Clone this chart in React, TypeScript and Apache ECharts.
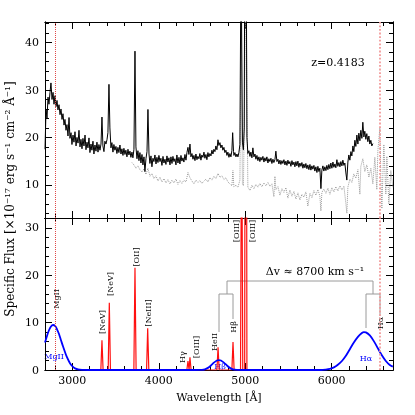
import React, { useEffect, useRef } from 'react';
import * as echarts from 'echarts';

const X_MIN = 2684;
const X_MAX = 6710;
const xMajorTicks = [3000, 4000, 5000, 6000];
const xMinorTicks = [2800, 3000, 3200, 3400, 3600, 3800, 4000, 4200, 4400, 4600, 4800, 5000, 5200, 5400, 5600, 5800, 6000, 6200, 6400, 6600];
const xTickLabels = [3000, 4000, 5000, 6000];
const topYMajor = [10, 20, 30, 40];
const topYMinor = [4, 6, 8, 10, 12, 14, 16, 18, 20, 22, 24, 26, 28, 30, 32, 34, 36, 38, 40, 42, 44];
const botYMajor = [0, 10, 20, 30];
const botYMinor = [0, 2, 4, 6, 8, 10, 12, 14, 16, 18, 20, 22, 24, 26, 28, 30, 32];

// observed spectrum (black)
const observedSpectrum: [number, number][] = [
[2684,17.5],[2696,26],[2707,24],[2719,28.5],[2730,27],[2742,29.5],[2753,31.5],[2765,28],[2777,29.5],[2788,27],[2800,28.8],[2811,26.5],[2823,27.8],[2834,25.8],[2846,26.9],[2858,24.8],[2869,26],[2881,23.8],[2892,25],[2904,22.6],[2915,23.8],[2927,21.5],[2938,22.7],[2950,20.3],[2962,24.2],[2973,19.8],[2985,21],[2996,18.5],[3008,20.5],[3019,19],[3031,21.2],[3043,18.2],[3054,20],[3066,18.8],[3077,21.5],[3089,18],[3100,19.6],[3112,17.6],[3123,19.8],[3135,18.2],[3147,20.5],[3158,17.4],[3170,19],[3181,17.8],[3193,19.9],[3204,16.8],[3216,18.6],[3227,17.3],[3239,19.2],[3250,16.5],[3262,18.4],[3274,17.1],[3285,19],[3297,16.9],[3308,18.5],[3320,17.3],[3332,18.6],[3343,24.3],[3354,18.2],[3366,17],[3377,19.2],[3389,18.6],[3401,19.5],[3412,21],[3424,31.2],[3435,22],[3447,17.8],[3458,18.9],[3470,16.9],[3481,18.5],[3493,17.3],[3505,18.1],[3516,16.6],[3528,17.9],[3539,16.8],[3551,18.4],[3563,16.5],[3574,17.6],[3586,16.2],[3597,17.7],[3609,16.4],[3620,17.3],[3632,15.9],[3644,17.5],[3655,16.3],[3667,17.1],[3678,15.8],[3690,16.9],[3701,15.7],[3713,17.5],[3725,38.2],[3736,18],[3748,15.5],[3759,17.2],[3771,15.1],[3782,16.8],[3794,14.6],[3806,16.4],[3817,14.2],[3829,15.9],[3840,12.8],[3852,15.5],[3864,17],[3875,25.9],[3887,16.5],[3898,14.5],[3910,16.1],[3921,13.8],[3933,15.6],[3944,14.9],[3956,16.3],[3968,14.4],[3979,15.8],[3991,14.7],[4002,16.2],[4014,14.9],[4025,15.6],[4037,14.1],[4049,16],[4060,14.6],[4072,15.4],[4083,14.3],[4095,16.1],[4106,14.8],[4118,15.7],[4130,14.2],[4141,15.9],[4153,14.5],[4164,16],[4176,14.9],[4187,15.5],[4199,14.2],[4210,16.3],[4222,14.6],[4234,15.8],[4245,14.4],[4257,16.2],[4268,15],[4280,15.7],[4291,14.8],[4303,16.4],[4315,15.2],[4326,16.8],[4338,17.9],[4349,16.4],[4361,18.6],[4372,15.9],[4384,16.6],[4396,15.4],[4407,16.2],[4419,15.1],[4430,16.5],[4442,15.3],[4453,16],[4465,15.5],[4476,16.6],[4488,15.2],[4499,16.3],[4511,15.8],[4523,16.9],[4534,15.6],[4546,16.4],[4557,15.3],[4569,16.8],[4580,15.9],[4592,16.6],[4604,16.1],[4615,17.3],[4627,16.5],[4638,17.5],[4650,17],[4661,18.2],[4673,17.4],[4685,19.5],[4696,18.3],[4708,18.9],[4719,17.8],[4731,18.4],[4742,17.3],[4754,17.9],[4765,16.8],[4777,17.3],[4789,16.2],[4800,16.9],[4812,15.8],[4823,16.6],[4835,15.9],[4846,17.2],[4855,21],[4865,17],[4870,16.2],[4881,16.8],[4893,15.9],[4904,16.5],[4916,15.9],[4927,16.8],[4939,18.5],[4952,60],[4960,60],[4968,19],[4979,17.4],[4989,22],[4998,80],[5008,80],[5020,20],[5031,16.6],[5043,17.2],[5055,16],[5066,16.9],[5078,15.7],[5089,17.8],[5101,15.9],[5113,16.5],[5124,15.4],[5136,16.2],[5147,15.1],[5159,15.9],[5170,14.9],[5182,15.8],[5193,15.2],[5205,16],[5217,14.8],[5228,15.7],[5240,15],[5251,15.9],[5263,14.6],[5274,15.5],[5286,14.9],[5298,15.6],[5309,14.5],[5321,15.4],[5332,14.7],[5344,15.3],[5355,17.1],[5367,14.9],[5379,15.4],[5390,14.4],[5402,15.2],[5413,14.3],[5425,15.1],[5436,14.5],[5448,15.3],[5460,14.2],[5471,15],[5483,14.1],[5494,15.2],[5506,14.4],[5517,14.9],[5529,13.9],[5541,15.1],[5552,14.2],[5564,14.8],[5575,13.8],[5587,14.9],[5598,14],[5610,15],[5621,13.7],[5633,14.6],[5645,13.9],[5656,14.7],[5668,13.5],[5679,14.4],[5691,13.6],[5702,14.5],[5714,13.4],[5725,14.2],[5737,13.2],[5749,14.3],[5760,13.1],[5772,14],[5783,13.3],[5795,14.1],[5806,12.9],[5818,13.8],[5830,12.6],[5841,13.9],[5853,12.8],[5864,13.5],[5876,9.2],[5887,13.1],[5899,14],[5910,12.9],[5922,13.8],[5934,13],[5945,14.1],[5957,13.2],[5968,14.3],[5980,13.4],[5991,14.6],[6003,13.5],[6015,14.8],[6026,13.7],[6038,14.4],[6049,13.6],[6061,15.3],[6072,13.9],[6084,14.7],[6096,13.8],[6107,14.9],[6119,14],[6130,15.2],[6142,14.1],[6153,14.6],[6165,12.5],[6176,11],[6188,14.8],[6199,16.3],[6211,15.2],[6223,17],[6234,16.1],[6246,18.2],[6257,17],[6269,19.4],[6280,18.1],[6292,20.5],[6304,18.6],[6315,20.9],[6327,19.3],[6338,21.5],[6350,19.8],[6361,23.2],[6373,20.1],[6384,21.3],[6396,19.6],[6407,20.8],[6419,19.1],[6431,20.3],[6442,18.6],[6454,19.4],[6465,18.2],[6477,18.7]
];

// comparison spectrum (grey dotted)
const comparisonSpectrum: [number, number][] = [
[3690,14.7],[3713,14.2],[3736,13.5],[3759,14],[3782,13.2],[3806,12.7],[3829,13.4],[3852,12.2],[3875,13.5],[3898,11.8],[3921,12.4],[3944,11.3],[3968,11.9],[3991,10.8],[4014,11.6],[4037,10.6],[4060,11.3],[4083,10.4],[4106,11.1],[4130,10.2],[4153,11],[4176,10.4],[4199,11.2],[4222,10.1],[4245,10.9],[4268,10.3],[4291,11],[4315,10.6],[4338,12.6],[4361,11.5],[4384,10.8],[4407,10.2],[4430,11],[4453,10.5],[4476,10.9],[4499,10.3],[4523,10.8],[4546,11.2],[4569,10.6],[4592,11.5],[4615,11],[4638,11.8],[4661,11.3],[4685,12.4],[4708,11.6],[4731,11.9],[4754,11.1],[4777,11.5],[4800,10.6],[4823,10.2],[4846,9.8],[4858,13],[4869,9.6],[4893,9.9],[4916,9.5],[4939,11],[4955,45],[4968,10.2],[4980,9.8],[5003,45],[5012,45],[5031,9.5],[5055,8.8],[5078,9.9],[5101,9.2],[5124,10.1],[5147,9.5],[5170,10.3],[5193,9.6],[5217,10.4],[5240,9.8],[5263,10.5],[5286,9.7],[5309,10.2],[5332,7.5],[5344,11.8],[5355,9],[5379,9.6],[5402,7.8],[5425,9.2],[5448,8.4],[5471,9.4],[5494,7.2],[5517,8.9],[5541,7.6],[5564,8.6],[5587,7],[5610,8.3],[5633,6.8],[5656,8],[5679,7.4],[5702,8.5],[5725,5.5],[5749,8.2],[5772,7.3],[5795,8.8],[5818,7.8],[5841,9],[5864,7.6],[5876,4.5],[5887,8.4],[5910,9.1],[5934,8.2],[5957,9.3],[5980,8],[6003,9.4],[6026,8.5],[6049,9.6],[6072,8.7],[6096,9.8],[6119,8.9],[6142,9.7],[6165,6],[6176,4],[6188,9.5],[6211,11.2],[6234,10.5],[6257,12.3],[6280,11.4],[6304,13.2],[6327,8],[6338,13.9],[6361,15.5],[6384,12.8],[6407,14.2],[6431,11.6],[6454,13.5],[6477,10.2],[6500,15.8],[6523,9],[6535,17.2],[6558,22],[6569,12],[6581,5],[6604,18.5],[6627,8],[6639,16],[6662,6],[6685,13],[6708,9.5]
];

// broad components (blue)
const broadModel: [number, number][] = [
[2684,5.8],[2707,7.2],[2730,8.4],[2753,9.2],[2777,9.5],[2800,9.3],[2823,8.6],[2846,7.6],[2869,6.3],[2892,5],[2915,3.8],[2938,2.7],[2962,1.8],[2985,1.1],[3008,0.65],[3031,0.35],[3066,0.12],[3112,0.03],[3181,0],[3600,0],[4000,0],[4400,0],[4500,0.03],[4534,0.15],[4569,0.45],[4604,0.95],[4638,1.55],[4673,2],[4696,2.1],[4719,2],[4754,1.55],[4789,0.95],[4823,0.45],[4858,0.15],[4904,0.03],[4960,0],[5400,0],[5880,0],[5934,0.1],[5980,0.25],[6026,0.55],[6072,1.1],[6119,1.9],[6165,3],[6211,4.4],[6257,5.8],[6304,7],[6350,7.8],[6373,8],[6396,7.95],[6442,7.3],[6488,6.1],[6535,4.6],[6581,3.1],[6627,1.9],[6673,1.05],[6708,0.7]
];

// narrow emission lines (red): centres and peak heights
const narrowCentres = [3343, 3428, 3725, 3872, 4338, 4361, 4686, 4859, 4959, 5007];
const narrowPeaks = [6.3, 14.2, 21.6, 8.8, 1.9, 2.7, 4.8, 5.9, 60, 180];

const markerWavelengths = [2808, 6553];

const FONT = 'DejaVu Serif';

function xAxis(gridIndex: number, position: string, ticks: number[], len: number, labels: boolean) {
  return {
    type: 'value', gridIndex, position, min: X_MIN, max: X_MAX,
    axisLine: { show: true, onZero: false, lineStyle: { color: '#000', width: 1 } },
    axisTick: { show: true, inside: true, length: len, customValues: ticks, lineStyle: { color: '#000', width: 1 } },
    axisLabel: labels ? { show: true, customValues: xTickLabels, formatter: (v: number) => String(v), margin: 5, color: '#000', fontFamily: FONT, fontSize: 11 } : { show: false },
    splitLine: { show: false },
    minorTick: { show: false },
  };
}
function yAxis(gridIndex: number, position: string, min: number, max: number, ticks: number[], len: number, labels: number[] | null) {
  return {
    type: 'value', gridIndex, position, min, max,
    axisLine: { show: true, onZero: false, lineStyle: { color: '#000', width: 1 } },
    axisTick: { show: true, inside: true, length: len, customValues: ticks, lineStyle: { color: '#000', width: 1 } },
    axisLabel: labels ? { show: true, customValues: labels, formatter: (v: number) => String(v), margin: 6, color: '#000', fontFamily: FONT, fontSize: 11 } : { show: false },
    splitLine: { show: false },
  };
}

function rotLabel(x: number, y: number, text: string) {
  return {
    type: 'text', x, y, rotation: Math.PI / 2,
    style: { text, fill: '#000', fontFamily: FONT, fontSize: 8, align: 'center', verticalAlign: 'middle', textAlign: 'center', textVerticalAlign: 'middle' },
  };
}
function flatLabel(x: number, y: number, text: string, color: string, size: number) {
  return {
    type: 'text', x, y,
    style: { text, fill: color, fontFamily: FONT, fontSize: size, align: 'center', verticalAlign: 'middle', textAlign: 'center', textVerticalAlign: 'middle' },
  };
}
function bracket(points: number[][]) {
  return { type: 'polyline', shape: { points }, style: { stroke: '#9a9a9a', lineWidth: 1, fill: null }, silent: true };
}

export default function App() {
  const ref = useRef<HTMLDivElement>(null);
  useEffect(() => {
    if (!ref.current) return;
    const chart = echarts.init(ref.current, null, { renderer: 'svg' });
    const narrowData: [number, number][] = [];
    narrowCentres.forEach((c, i) => {
      narrowData.push([c - 13, 0], [c, narrowPeaks[i]], [c + 13, 0]);
    });
    const markLine = {
      silent: true, symbol: ['none', 'none'], label: { show: false }, animation: false,
      data: [
        { xAxis: markerWavelengths[0], lineStyle: { color: '#e04848', type: 'dotted', width: 1 } },
        { xAxis: markerWavelengths[1], lineStyle: { color: '#f29a9a', type: 'dotted', width: 1.8 } },
      ],
    };
    chart.setOption({
      animation: false,
      textStyle: { fontFamily: FONT },
      grid: [
        { left: 45, right: 22, top: 22, height: 196, containLabel: false, outerBoundsMode: 'none' },
        { left: 45, right: 22, top: 218, height: 152, containLabel: false, outerBoundsMode: 'none' },
      ],
      xAxis: [
        xAxis(0, 'bottom', xMajorTicks, 7, false),
        xAxis(0, 'bottom', xMinorTicks, 4, false),
        xAxis(0, 'top', xMajorTicks, 7, false),
        xAxis(0, 'top', xMinorTicks, 4, false),
        xAxis(1, 'bottom', xMajorTicks, 7, true),
        xAxis(1, 'bottom', xMinorTicks, 4, false),
        xAxis(1, 'top', xMajorTicks, 7, false),
        xAxis(1, 'top', xMinorTicks, 4, false),
      ],
      yAxis: [
        yAxis(0, 'left', 3, 44.35, topYMajor, 7, topYMajor),
        yAxis(0, 'left', 3, 44.35, topYMinor, 4, null),
        yAxis(0, 'right', 3, 44.35, topYMajor, 7, null),
        yAxis(0, 'right', 3, 44.35, topYMinor, 4, null),
        yAxis(1, 'left', 0, 32.1, botYMajor, 7, botYMajor),
        yAxis(1, 'left', 0, 32.1, botYMinor, 4, null),
        yAxis(1, 'right', 0, 32.1, botYMajor, 7, null),
        yAxis(1, 'right', 0, 32.1, botYMinor, 4, null),
      ],
      series: [
        {
          type: 'line', xAxisIndex: 0, yAxisIndex: 0, data: comparisonSpectrum, symbol: 'none', showSymbol: false,
          lineStyle: { color: '#9a9a9a', width: 1, type: 'dotted' }, z: 2, silent: true,
        },
        {
          type: 'line', xAxisIndex: 0, yAxisIndex: 0, data: observedSpectrum, symbol: 'none', showSymbol: false,
          lineStyle: { color: '#000', width: 1 }, z: 3, silent: true, markLine,
        },
        {
          type: 'line', xAxisIndex: 4, yAxisIndex: 4, data: narrowData, symbol: 'none', showSymbol: false,
          lineStyle: { color: '#ff1010', width: 1.2 }, z: 2, silent: true,
        },
        {
          type: 'line', xAxisIndex: 4, yAxisIndex: 4, data: broadModel, symbol: 'none', showSymbol: false, smooth: 0.3,
          lineStyle: { color: '#0000ff', width: 1.8 }, z: 3, silent: true, markLine,
        },
      ],
      graphic: [
        {
          type: 'text', x: 10, y: 199, rotation: Math.PI / 2,
          style: { text: 'Specific Flux [×10⁻¹⁷ erg s⁻¹ cm⁻² Å⁻¹]', fill: '#000', fontFamily: FONT, fontSize: 12, align: 'center', verticalAlign: 'middle', textAlign: 'center', textVerticalAlign: 'middle' },
        },
        flatLabel(219, 397, 'Wavelength [Å]', '#000', 11),
        flatLabel(338, 62, 'z=0.4183', '#000', 11),
        flatLabel(315, 271, 'Δv ≈ 8700 km s⁻¹', '#000', 11),
        rotLabel(56, 299, 'MgII'),
        rotLabel(102, 322, '[NeV]'),
        rotLabel(110, 284, '[NeV]'),
        rotLabel(136, 257, '[OII]'),
        rotLabel(148, 313, '[NeIII]'),
        rotLabel(182, 357, 'Hγ'),
        rotLabel(196, 347, '[OIII]'),
        rotLabel(214, 342, 'HeII'),
        rotLabel(233, 327, 'Hβ'),
        rotLabel(236, 231, '[OIII]'),
        rotLabel(252, 231, '[OIII]'),
        rotLabel(380, 323, 'Hα'),
        flatLabel(54, 356, 'MgII', '#0000ff', 8),
        flatLabel(220, 366, 'Hβ', '#0000ff', 8),
        flatLabel(366, 358, 'Hα', '#0000ff', 8),
        bracket([[227, 294], [227, 281], [373, 281], [373, 294]]),
        bracket([[219, 332], [219, 294], [233, 294], [233, 319]]),
        bracket([[366, 328], [366, 294], [380, 294], [380, 315]]),
      ],
    });
    return () => chart.dispose();
  }, []);
  return <div ref={ref} style={{ position: 'fixed', left: 0, top: 0, width: 415, height: 415 }} />;
}
